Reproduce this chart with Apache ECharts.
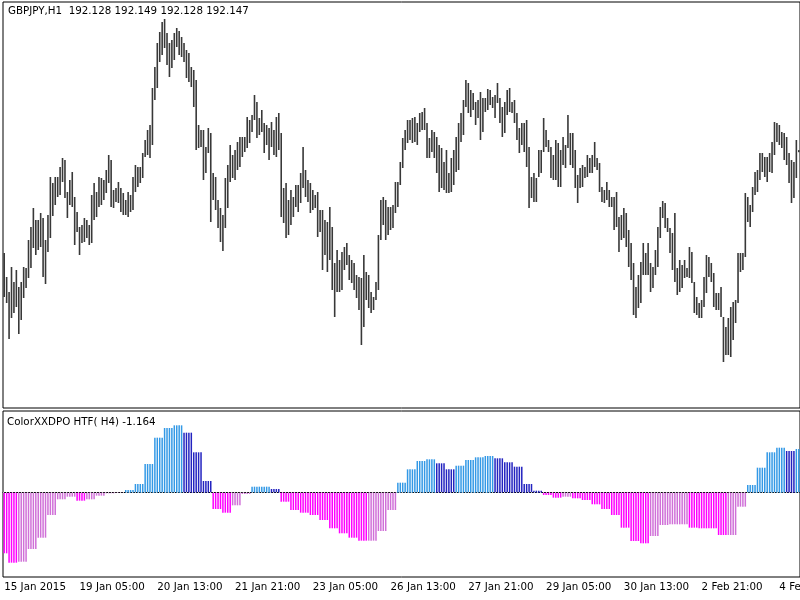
<!DOCTYPE html>
<html>
<head>
<meta charset="utf-8">
<script src="https://cdn.jsdelivr.net/npm/echarts@6/dist/echarts.min.js"></script>
<style>
  html, body { margin: 0; padding: 0; background: #fff; }
  #chart { width: 800px; height: 600px; }
</style>
</head>
<body>
<div id="chart"></div>
<script>
// GBPJPY H1 bars, high / low per bar
const highs = [
  191.12,190.88,190.73,190.98,190.83,190.95,190.78,190.83,190.98,190.97,
  191.25,191.38,191.57,191.45,191.45,191.52,191.47,191.25,191.50,191.88,
  191.82,191.88,191.88,191.98,192.07,192.05,191.73,191.85,191.93,191.68,
  191.53,191.38,191.40,191.47,191.45,191.40,191.70,191.82,191.73,191.88,
  191.87,191.85,191.95,192.10,192.05,191.75,191.77,191.83,191.77,191.72,
  191.65,191.73,191.70,191.88,192.00,191.98,191.98,192.12,192.25,192.35,
  192.40,192.77,192.98,193.22,193.33,193.43,193.46,193.32,193.22,193.25,
  193.32,193.37,193.34,193.28,193.22,193.15,193.12,192.98,192.95,192.85,
  192.40,192.35,192.35,192.18,192.37,192.32,191.92,191.88,191.65,191.57,
  191.50,191.87,192.00,192.20,192.10,192.15,192.23,192.28,192.28,192.28,
  192.48,192.45,192.50,192.70,192.63,192.47,192.55,192.42,192.40,192.37,
  192.43,192.35,192.48,192.52,192.32,191.77,191.82,191.65,191.75,191.68,
  191.80,191.80,191.92,192.18,191.95,191.85,191.82,191.75,191.70,191.73,
  191.55,191.55,191.45,191.43,191.58,191.38,191.02,191.15,191.05,191.13,
  191.18,191.22,191.10,191.05,191.02,190.90,190.88,190.87,191.10,190.93,
  190.90,190.73,190.68,190.83,191.30,191.65,191.68,191.65,191.58,191.58,
  191.60,191.83,191.83,192.03,192.27,192.35,192.45,192.45,192.47,192.48,
  192.42,192.52,192.53,192.57,192.42,192.27,192.35,192.33,192.28,192.20,
  192.17,192.03,192.15,191.92,192.07,192.15,192.28,192.42,192.52,192.65,
  192.85,192.82,192.75,192.72,192.63,192.65,192.73,192.67,192.67,192.76,
  192.75,192.68,192.70,192.82,192.67,192.58,192.63,192.75,192.77,192.63,
  192.65,192.52,192.37,192.42,192.42,192.45,192.18,191.88,191.92,191.87,
  192.15,192.15,192.47,192.35,192.25,192.18,192.10,192.25,192.22,192.15,
  192.28,192.20,192.50,192.32,192.32,192.15,191.90,191.97,192.00,191.98,
  192.10,192.07,192.10,192.23,192.07,192.02,191.78,191.75,191.83,191.75,
  191.68,191.68,191.73,191.48,191.50,191.57,191.52,191.35,191.22,191.02,
  190.78,190.90,191.03,191.22,191.12,191.22,191.02,190.98,191.15,191.38,
  191.58,191.64,191.62,191.47,191.37,191.32,191.52,190.97,191.05,191.00,
  191.05,190.97,191.18,191.13,190.83,190.68,190.62,190.65,190.88,191.10,
  191.08,191.02,190.92,190.72,190.72,190.78,190.48,190.38,190.47,190.58,
  190.63,190.65,191.12,191.12,191.12,191.72,191.68,191.60,191.78,191.93,
  191.95,192.12,192.12,192.08,192.08,192.12,192.23,192.43,192.42,192.40,
  192.33,192.32,192.28,192.12,192.05,192.03,192.25,192.149
];
const lows = [
  190.68,190.62,190.26,190.47,190.52,190.58,190.31,190.45,190.67,190.77,
  190.87,190.97,191.17,191.10,191.15,191.18,190.88,190.81,191.13,191.27,
  191.49,191.60,191.68,191.70,191.83,191.67,191.47,191.60,191.58,191.20,
  191.33,191.10,191.22,191.23,191.27,191.20,191.22,191.45,191.48,191.58,
  191.60,191.65,191.72,191.82,191.58,191.57,191.63,191.62,191.53,191.50,
  191.50,191.48,191.53,191.55,191.73,191.78,191.82,191.87,192.08,192.10,
  192.07,192.20,192.65,192.77,193.03,193.10,193.17,193.00,192.88,192.97,
  193.05,193.18,193.10,193.08,193.03,192.87,192.83,192.78,192.58,192.15,
  192.17,192.18,191.85,191.92,192.12,191.43,191.65,191.55,191.37,191.23,
  191.14,191.37,191.57,191.83,191.87,191.85,191.95,191.98,192.08,192.13,
  192.17,192.22,192.33,192.45,192.27,192.30,192.33,192.12,192.20,192.05,
  192.18,192.10,192.08,192.15,191.48,191.42,191.27,191.30,191.40,191.48,
  191.58,191.53,191.62,191.77,191.68,191.63,191.52,191.55,191.57,191.28,
  191.33,190.95,191.10,190.93,191.05,190.75,190.48,190.73,190.73,190.75,
  190.95,191.00,190.85,190.82,190.75,190.67,190.55,190.20,190.38,190.65,
  190.57,190.52,190.55,190.65,190.75,191.25,191.40,191.25,191.30,191.35,
  191.37,191.52,191.58,191.80,191.97,192.15,192.22,192.25,192.22,192.23,
  192.20,192.33,192.35,192.35,192.07,192.07,192.13,192.07,191.92,191.73,
  191.77,191.75,191.72,191.72,191.73,191.80,191.93,191.95,192.23,192.30,
  192.58,192.52,192.48,192.55,192.40,192.47,192.25,192.33,192.53,192.55,
  192.60,192.57,192.47,192.62,192.42,192.28,192.32,192.50,192.53,192.52,
  192.42,192.25,192.12,192.20,192.13,191.98,191.57,191.67,191.63,191.63,
  191.88,191.92,192.13,192.18,192.13,191.87,191.85,191.85,191.78,191.78,
  192.00,191.97,192.17,192.00,191.97,191.77,191.62,191.77,191.78,191.87,
  191.88,191.92,191.92,191.98,191.95,191.73,191.63,191.62,191.65,191.58,
  191.58,191.35,191.38,191.13,191.25,191.27,191.18,190.98,190.85,190.50,
  190.47,190.57,190.62,190.90,190.90,190.90,190.73,190.77,190.90,190.98,
  191.27,191.47,191.37,191.33,191.12,190.95,190.83,190.70,190.73,190.77,
  190.87,190.88,190.87,190.82,190.52,190.50,190.47,190.47,190.58,190.72,
  190.88,190.83,190.58,190.55,190.55,190.48,190.03,190.10,190.10,190.08,
  190.25,190.42,190.62,190.93,190.95,191.08,191.43,191.38,191.53,191.70,
  191.73,191.85,191.93,191.88,191.83,191.93,191.92,192.10,192.23,192.20,
  192.17,192.05,192.00,191.82,191.62,191.67,191.87,192.128
];

// ColorXXDPO HTF, one value per H4 bar, and its colour index
// 0 falling below zero, 1 rising below zero, 2 rising above zero, 3 falling above zero
const dpoH4 = [
  -1.82,-2.10,-2.07,-1.69,-1.35,-0.67,-0.20,-0.12,-0.24,-0.20,
  -0.09,-0.02,-0.01,0.08,0.26,0.86,1.65,1.94,2.02,1.80,
  1.21,0.35,-0.49,-0.60,-0.38,-0.04,0.18,0.18,0.11,-0.27,
  -0.52,-0.60,-0.67,-0.82,-1.07,-1.22,-1.35,-1.44,-1.44,-1.15,
  -0.52,0.30,0.70,0.95,1.00,0.88,0.70,0.81,0.98,1.06,
  1.10,1.03,0.91,0.78,0.26,0.06,-0.07,-0.15,-0.12,-0.17,
  -0.22,-0.35,-0.49,-0.67,-1.05,-1.45,-1.52,-1.30,-0.97,-0.95,
  -0.95,-1.05,-1.07,-1.07,-1.27,-1.27,-0.42,0.23,0.75,1.21,
  1.35,1.25,1.31
];
const dpoColor = [
  0,0,1,1,1,1,1,1,0,1,
  1,1,1,2,2,2,2,2,2,3,
  3,3,0,0,1,1,2,2,3,0,
  0,0,0,0,0,0,0,0,1,1,
  1,2,2,2,2,3,3,2,2,2,
  2,3,3,3,3,3,0,0,1,0,
  0,0,0,0,0,0,0,1,1,1,
  1,0,0,0,0,1,1,2,2,2,
  2,3,2
];
const palette = ['#FF00FF', '#D070D8', '#3399E6', '#2323C0'];

// time axis ticks
const tickIdx = [0, 31, 63, 95, 127, 159, 191, 223, 255, 287, 319];
const tickText = ['15 Jan 2015', '19 Jan 05:00', '20 Jan 13:00', '21 Jan 21:00', '23 Jan 05:00',
  '26 Jan 13:00', '27 Jan 21:00', '29 Jan 05:00', '30 Jan 13:00', '2 Feb 21:00', '4 Feb 05:00'];

// hourly bars, weekends skipped
const times = [];
let t = Date.UTC(2015, 0, 15, 22);
while (times.length < highs.length) {
  const wd = new Date(t).getUTCDay();
  if (wd !== 0 && wd !== 6) times.push(t);
  t += 3600000;
}

const bars = times.map((_, i) => [i, highs[i], lows[i]]);
const dpo = times.map((_, i) => {
  const k = Math.floor((i + 2) / 4);
  return { value: dpoH4[k], itemStyle: { color: palette[dpoColor[k]] } };
});

const font = 'DejaVu Sans';
const showTick = (i) => tickIdx.indexOf(i) >= 0;

const chart = echarts.init(document.getElementById('chart'));
chart.setOption({
  animation: false,
  grid: [
    { left: 3, top: 2, width: 797, height: 406, show: true, borderColor: '#000', borderWidth: 1, outerBoundsMode: 'none', containLabel: false },
    { left: 3, top: 411, width: 797, height: 166, show: true, borderColor: '#000', borderWidth: 1, outerBoundsMode: 'none', containLabel: false }
  ],
  xAxis: [
    { type: 'category', gridIndex: 0, data: times, show: false },
    {
      type: 'category', gridIndex: 1, data: times,
      axisLine: { lineStyle: { color: '#000' } },
      axisTick: { interval: showTick, alignWithLabel: true, length: 5, lineStyle: { color: '#000' } },
      axisLabel: {
        interval: showTick, align: 'left', margin: 5, hideOverlap: false,
        color: '#000', fontFamily: font, fontSize: 10.3,
        formatter: (v, i) => tickText[tickIdx.indexOf(i)] || ''
      }
    }
  ],
  yAxis: [
    { type: 'value', gridIndex: 0, min: 189.57, max: 193.63, show: false },
    { type: 'value', gridIndex: 1, min: -2.53, max: 2.45, show: false }
  ],
  series: [
    {
      type: 'custom', xAxisIndex: 0, yAxisIndex: 0, data: bars,
      encode: { x: 0, y: [1, 2] },
      renderItem: (params, api) => {
        const hi = api.coord([api.value(0), api.value(1)]);
        const lo = api.coord([api.value(0), api.value(2)]);
        return {
          type: 'rect',
          shape: { x: hi[0] - 0.8, y: hi[1], width: 1.6, height: Math.max(1, lo[1] - hi[1]) },
          style: { fill: '#383838' }
        };
      }
    },
    {
      type: 'bar', xAxisIndex: 1, yAxisIndex: 1, data: dpo, barWidth: 1.5,
      markLine: {
        silent: true, symbol: 'none', label: { show: false },
        lineStyle: { color: '#c4c4c4', type: [1, 2], width: 1 },
        data: [{ yAxis: 0 }]
      }
    }
  ],
  graphic: [
    {
      type: 'text', left: 8, top: 6,
      style: { text: 'GBPJPY,H1  192.128 192.149 192.128 192.147', font: '10.3px "DejaVu Sans"', fill: '#000' }
    },
    {
      type: 'text', left: 7, top: 417,
      style: { text: 'ColorXXDPO HTF( H4) -1.164', font: '10.3px "DejaVu Sans"', fill: '#000' }
    }
  ]
});
</script>
</body>
</html>
